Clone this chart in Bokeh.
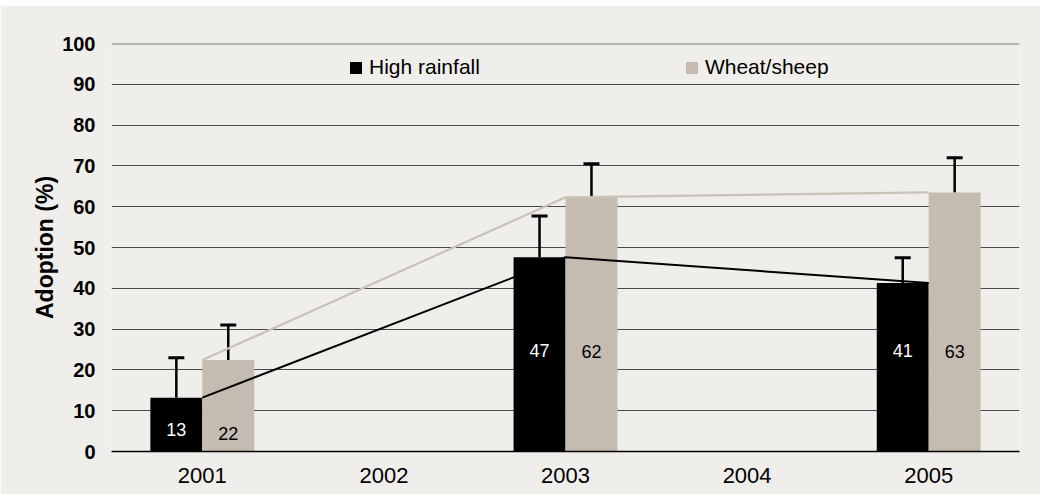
from bokeh.plotting import figure
from bokeh.models import (ColumnDataSource, FactorRange, Range1d, FixedTicker, Whisker,
                          TeeHead, Legend, LegendItem, Span)
from bokeh.transform import dodge
from bokeh.core.properties import value
from bokeh.embed import file_html
from bokeh.resources import INLINE

# ---- data ----
years = ["2001", "2002", "2003", "2004", "2005"]
bar_years = ["2001", "2003", "2005"]
high_rainfall = [13.2, 47.6, 41.3]
wheat_sheep = [22.4, 62.3, 63.5]
high_rainfall_err = [23.0, 57.7, 47.5]
wheat_sheep_err = [31.0, 70.5, 72.0]
high_rainfall_labels = ["13", "47", "41"]
wheat_sheep_labels = ["22", "62", "63"]
label_y_high = [5.4, 24.8, 24.8]
label_y_wheat = [4.5, 24.4, 24.4]
y_ticks = [0, 10, 20, 30, 40, 50, 60, 70, 80, 90, 100]

FONT = "Liberation Sans"
BG = "#EFEEEA"
TAN = "#C4BCB0"
TAN_LINE = "#C9C2B7"

src = ColumnDataSource(dict(
    year=bar_years, hr=high_rainfall, ws=wheat_sheep,
    hr_err=high_rainfall_err, ws_err=wheat_sheep_err,
    hr_lab=high_rainfall_labels, ws_lab=wheat_sheep_labels,
    hr_ly=label_y_high, ws_ly=label_y_wheat,
))

p = figure(x_range=FactorRange(factors=years, range_padding=0),
           y_range=Range1d(0, 100),
           width=1040, height=489,
           output_backend="svg", toolbar_location=None,
           min_border_left=111, min_border_right=21,
           min_border_top=38, min_border_bottom=43)
p.margin = (5, 0, 0, 0)
p.background_fill_color = BG
p.border_fill_color = BG
p.outline_line_color = None

BW = 0.286
r1 = p.vbar(x=dodge("year", -BW / 2, range=p.x_range), top="hr", width=BW,
            source=src, fill_color="black", line_color=None)
r2 = p.vbar(x=dodge("year", BW / 2, range=p.x_range), top="ws", width=BW,
            source=src, fill_color=TAN, line_color=None)

# connecting lines
p.line(x="year", y="hr", source=src, line_color="black", line_width=2)

# error bars (upper only)
for off, top, err in ((-BW / 2, "hr", "hr_err"), (BW / 2, "ws", "ws_err")):
    w = Whisker(base=dodge("year", off, range=p.x_range), lower=top, upper=err,
                source=src, line_color="black", line_width=2.5,
                lower_head=None,
                upper_head=TeeHead(size=16, line_color="black", line_width=3))
    p.add_layout(w)

p.line(x="year", y="ws", source=src, line_color=TAN_LINE, line_width=2.2)

# value labels
p.text(x=dodge("year", -BW / 2, range=p.x_range), y="hr_ly", text="hr_lab", source=src,
       text_color="white", text_font=value(FONT), text_font_size="18px",
       text_align="center", text_baseline="middle")
p.text(x=dodge("year", BW / 2, range=p.x_range), y="ws_ly", text="ws_lab", source=src,
       text_color="black", text_font=value(FONT), text_font_size="18px",
       text_align="center", text_baseline="middle")

# top border line at 100
p.add_layout(Span(location=100, dimension="width", line_color="#7A7A77", line_width=2))

# grid
p.xgrid.grid_line_color = None
p.ygrid.grid_line_color = "#4A4A4A"
p.ygrid.grid_line_width = 1
p.yaxis.ticker = FixedTicker(ticks=y_ticks)

# axes
p.yaxis.axis_line_color = None
p.yaxis.major_tick_line_color = None
p.yaxis.minor_tick_line_color = None
p.yaxis.major_tick_out = 0
p.yaxis.major_label_standoff = 16
p.yaxis.major_label_text_font = FONT
p.yaxis.major_label_text_font_size = "20px"
p.yaxis.major_label_text_font_style = "bold"
p.yaxis.major_label_text_color = "black"
p.yaxis.axis_label = "Adoption (%)"
p.yaxis.axis_label_text_font = FONT
p.yaxis.axis_label_text_font_size = "23px"
p.yaxis.axis_label_text_font_style = "bold"
p.yaxis.axis_label_text_color = "black"
p.yaxis.axis_label_standoff = 1

p.xaxis.axis_line_color = "black"
p.xaxis.axis_line_width = 1.5
p.xaxis.major_tick_line_color = None
p.xaxis.minor_tick_line_color = None
p.xaxis.major_tick_out = 0
p.xaxis.major_label_standoff = 16
p.xaxis.major_label_text_font = FONT
p.xaxis.major_label_text_font_size = "22px"
p.xaxis.major_label_text_color = "black"

legend = Legend(items=[LegendItem(label="High rainfall", renderers=[r1]),
                       LegendItem(label="Wheat/sheep", renderers=[r2])],
                orientation="horizontal", location=(237, 372),
                spacing=204, padding=0, margin=0,
                glyph_width=15, glyph_height=15, label_standoff=6,
                label_text_font=FONT, label_text_font_size="21px",
                label_text_color="black",
                background_fill_alpha=0, border_line_color=None)
p.add_layout(legend)

open("out.html", "w").write(file_html(p, INLINE))
